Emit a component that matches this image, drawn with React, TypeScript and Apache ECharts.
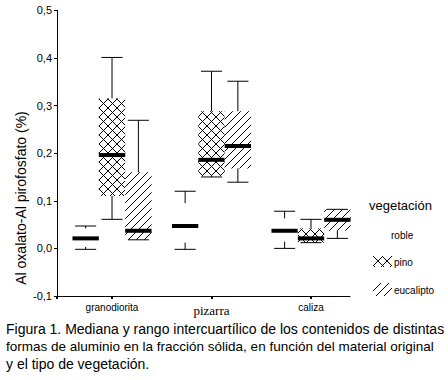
import React, { useEffect, useRef } from 'react';
import * as echarts from 'echarts';

const categories = ['granodiorita', 'pizarra', 'caliza'];
const vegetation = ['roble', 'pino', 'eucalipto'];
// each row: [min, Q1, median, Q3, max] per material
const roble = [
  [-0.002, 0.003, 0.021, 0.042, 0.047],
  [-0.002, 0.012, 0.047, 0.095, 0.12],
  [0.0, 0.014, 0.037, 0.063, 0.078],
];
const pino = [
  [0.061, 0.11, 0.196, 0.315, 0.401],
  [0.15, 0.152, 0.186, 0.288, 0.372],
  [0.012, 0.012, 0.021, 0.042, 0.061],
];
const eucalipto = [
  [0.018, 0.018, 0.037, 0.16, 0.269],
  [0.139, 0.168, 0.215, 0.288, 0.351],
  [0.021, 0.037, 0.06, 0.082, 0.082],
];
const yAxisTitle = 'Al oxalato-Al pirofosfato (%)';
const legendTitle = 'vegetación';
const caption = [
  'Figura 1. Mediana y rango intercuartílico de los contenidos de distintas',
  'formas de aluminio en la fracción sólida, en función del material original',
  'y el tipo de vegetación.',
];

function makeTile(size: number, draw: (ctx: CanvasRenderingContext2D) => void) {
  const c = document.createElement('canvas');
  c.width = size;
  c.height = size;
  const ctx = c.getContext('2d') as CanvasRenderingContext2D;
  ctx.fillStyle = '#ffffff';
  ctx.fillRect(0, 0, size, size);
  ctx.fillStyle = '#000000';
  draw(ctx);
  return { type: 'pattern', image: c, repeat: 'repeat', imageWidth: size, imageHeight: size } as any;
}

export default function App() {
  const ref = useRef<HTMLDivElement>(null);
  useEffect(() => {
    if (!ref.current) return;
    const chart = echarts.init(ref.current, null, { renderer: 'svg' });

    const crossPattern = makeTile(9, (ctx) => {
      for (let i = 0; i < 9; i++) {
        ctx.fillRect(i, i, 1, 1);
        ctx.fillRect(8 - i, i, 1, 1);
      }
    });
    const diagPattern = makeTile(8, (ctx) => {
      for (let i = 0; i < 8; i++) ctx.fillRect(7 - i, i, 1, 1);
    });
    const fills: any[] = [null, crossPattern, diagPattern];

    const makeRender = (offsetIdx: number, fill: any) => (params: any, api: any) => {
      const cat = api.value(0);
      const xc = api.coord([cat, 0])[0];
      const unit = api.size([1, 0])[0];
      const bw = unit * 0.265;
      const cx = xc + offsetIdx * bw;
      const y = (i: number) => api.coord([cat, api.value(i)])[1];
      const yMin = y(1), yQ1 = y(2), yMed = y(3), yQ3 = y(4), yMax = y(5);
      const cap = bw * 0.8;
      const lineStyle = { stroke: '#000', lineWidth: 1 };
      const children: any[] = [];
      if (fill) {
        children.push({
          type: 'rect',
          shape: { x: cx - bw / 2, y: yQ3, width: bw, height: yQ1 - yQ3 },
          style: { fill, stroke: null },
        });
      }
      children.push(
        { type: 'line', shape: { x1: cx, y1: yMax, x2: cx, y2: yQ3 }, style: lineStyle },
        { type: 'line', shape: { x1: cx, y1: yQ1, x2: cx, y2: yMin }, style: lineStyle },
        { type: 'line', shape: { x1: cx - cap / 2, y1: yMax, x2: cx + cap / 2, y2: yMax }, style: lineStyle },
        { type: 'line', shape: { x1: cx - cap / 2, y1: yMin, x2: cx + cap / 2, y2: yMin }, style: lineStyle },
        { type: 'line', shape: { x1: cx - bw / 2, y1: yMed, x2: cx + bw / 2, y2: yMed }, style: { stroke: '#000', lineWidth: 4 } }
      );
      return { type: 'group', children };
    };

    const groups = [roble, pino, eucalipto];
    const series = groups.map((g, si) => ({
      type: 'custom',
      name: vegetation[si],
      data: g.map((row, i) => [i, ...row]),
      encode: { x: 0, y: [1, 2, 3, 4, 5] },
      renderItem: makeRender(si - 1, fills[si]),
    }));

    const font = 'Liberation Sans, Arial, sans-serif';
    const captionSizes = [14, 13.5, 14];

    chart.setOption({
      animation: false,
      backgroundColor: '#ffffff',
      grid: { left: 57, width: 293, top: 10.3, bottom: 84 },
      xAxis: {
        type: 'value',
        min: -0.553,
        max: 2.392,
        splitLine: { show: false },
        axisLine: { show: true, onZero: false, lineStyle: { color: '#000', width: 1 } },
        axisTick: { show: true, length: 3, lineStyle: { color: '#000', width: 2 }, customValues: [-0.553, 0, 1, 2] },
        axisLabel: {
          customValues: [0, 1, 2],
          margin: 6,
          color: '#000',
          formatter: (v: number) => {
            const idx = Math.round(v);
            return idx === 1 ? `{serif|${categories[idx]}}` : `{sans|${categories[idx]}}`;
          },
          rich: {
            sans: { fontFamily: font, fontSize: 10, color: '#000' },
            serif: { fontFamily: 'Liberation Serif, Times New Roman, serif', fontSize: 13, color: '#000', padding: [2, 0, 0, 0] },
          },
        },
      },
      yAxis: {
        type: 'value',
        min: -0.1,
        max: 0.5,
        interval: 0.1,
        splitLine: { show: false },
        axisLine: { show: true, onZero: false, lineStyle: { color: '#000', width: 1 } },
        axisTick: { show: true, length: 3, lineStyle: { color: '#000' } },
        axisLabel: {
          color: '#000',
          fontFamily: font,
          fontSize: 11,
          margin: 5,
          formatter: (v: number) => v.toFixed(1).replace('.', ','),
        },
      },
      series,
      graphic: [
        {
          type: 'text',
          x: 21,
          y: 198,
          rotation: Math.PI / 2,
          style: { text: yAxisTitle, font: `14px ${font}`, fill: '#000', align: 'center', verticalAlign: 'middle' },
        },
        {
          type: 'text',
          x: 369,
          y: 205,
          style: { text: legendTitle, font: `13px ${font}`, fill: '#000', align: 'left', verticalAlign: 'middle' },
        },
        {
          type: 'text',
          x: 391,
          y: 235,
          style: { text: vegetation[0], font: `10px ${font}`, fill: '#000', align: 'left', verticalAlign: 'middle' },
        },
        { type: 'rect', shape: { x: 373, y: 256, width: 19, height: 11 }, style: { fill: crossPattern } },
        {
          type: 'text',
          x: 394,
          y: 262,
          style: { text: vegetation[1], font: `10px ${font}`, fill: '#000', align: 'left', verticalAlign: 'middle' },
        },
        { type: 'rect', shape: { x: 373, y: 283, width: 19, height: 13 }, style: { fill: diagPattern } },
        {
          type: 'text',
          x: 394,
          y: 290,
          style: { text: vegetation[2], font: `10px ${font}`, fill: '#000', align: 'left', verticalAlign: 'middle' },
        },
        ...caption.map((line, i) => ({
          type: 'text',
          x: 6,
          y: 329 + i * 17.3,
          style: { text: line, font: `${captionSizes[i]}px ${font}`, fill: '#000', align: 'left', verticalAlign: 'middle' },
        })),
      ],
    });
    return () => chart.dispose();
  }, []);
  return (
    <div style={{ position: 'fixed', left: 0, top: 0, width: 448, height: 380, background: '#fff' }}>
      <div ref={ref} style={{ width: 448, height: 380 }} />
    </div>
  );
}
